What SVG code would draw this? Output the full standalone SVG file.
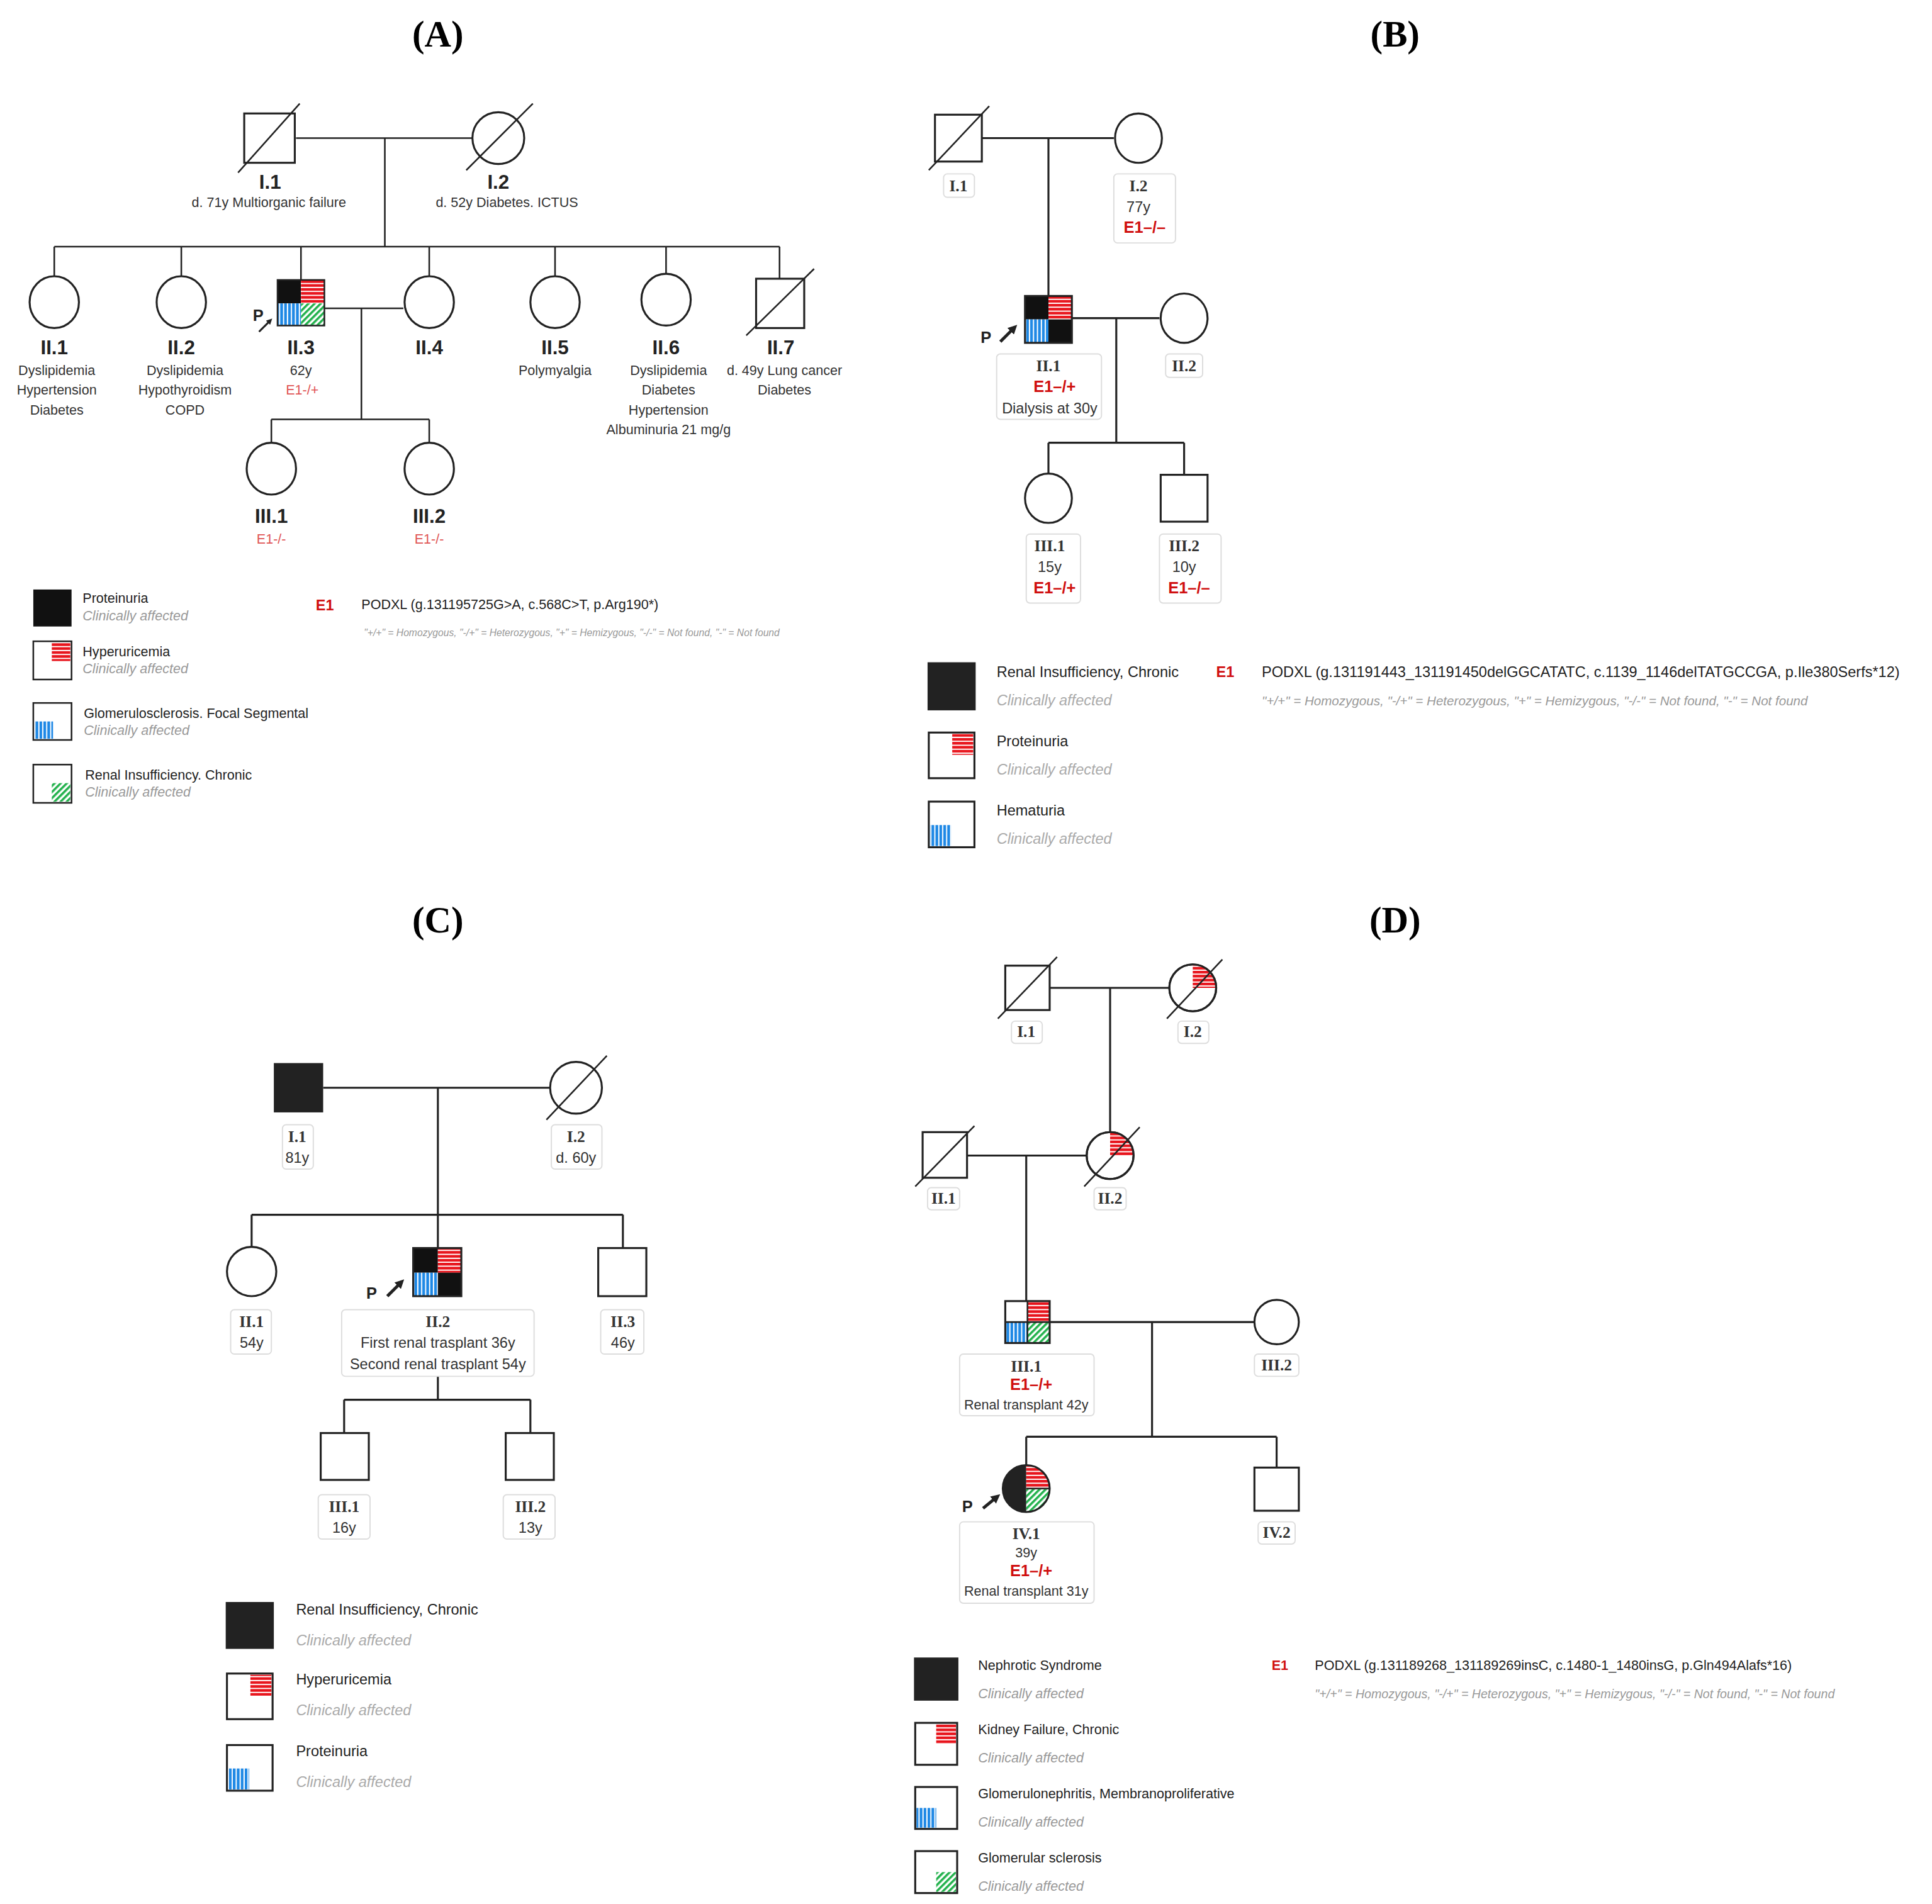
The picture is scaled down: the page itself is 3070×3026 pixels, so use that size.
<svg xmlns="http://www.w3.org/2000/svg" width="3070" height="3026" viewBox="0 0 3070 3026">
<defs>
<pattern id="red" patternUnits="userSpaceOnUse" width="4" height="3.2"><rect width="4" height="3.2" fill="#e8141c"/><rect y="2.2" width="4" height="1" fill="#fff"/></pattern>
<pattern id="blue" patternUnits="userSpaceOnUse" width="3.2" height="4"><rect width="3.2" height="4" fill="#1e88e5"/><rect x="2.2" width="1" height="4" fill="#fff"/></pattern>
<pattern id="green" patternUnits="userSpaceOnUse" width="3.5" height="3.5" patternTransform="rotate(-45)"><rect width="3.5" height="3.5" fill="#fff"/><rect width="3.5" height="1.8" fill="#22b14c"/></pattern>
<marker id="arr" viewBox="0 0 10 10" refX="5" refY="5" markerWidth="3" markerHeight="3" orient="auto"><path d="M0,0 L10,5 L0,10 z" fill="#222"/></marker>
</defs>
<style>
.s{fill:#fff;stroke:#222;stroke-width:1.6}
.l{fill:none;stroke:#222;stroke-width:1.6}
.ln{fill:none;stroke:#222;stroke-width:1.3}
.ttl{font-family:"Liberation Serif",serif;font-weight:bold;font-size:30px;text-anchor:middle}
.aid{font-family:"Liberation Sans",sans-serif;font-weight:bold;font-size:16px;text-anchor:middle;fill:#222}
.at{font-family:"Liberation Sans",sans-serif;font-size:11px;text-anchor:middle;fill:#333}
.ar{font-family:"Liberation Sans",sans-serif;font-size:11px;text-anchor:middle;fill:#e05555}
.bid{font-family:"Liberation Serif",serif;font-weight:bold;font-size:13px;text-anchor:middle;fill:#333}
.bt{font-family:"Liberation Sans",sans-serif;font-size:12px;text-anchor:middle;fill:#333}
.br{font-family:"Liberation Sans",sans-serif;font-weight:bold;font-size:13px;text-anchor:middle;fill:#d01010}
.box{fill:#fff;stroke:#ddd;stroke-width:1}
.lg{font-family:"Liberation Sans",sans-serif;font-size:11px;fill:#222}
.lgi{font-family:"Liberation Sans",sans-serif;font-size:11px;font-style:italic;fill:#999}
.lg2{font-family:"Liberation Sans",sans-serif;font-size:12px;fill:#222}
.lgi2{font-family:"Liberation Sans",sans-serif;font-size:12px;font-style:italic;fill:#aaa}
.e1{font-family:"Liberation Sans",sans-serif;font-weight:bold;font-size:12px;fill:#d01010}
.nt{font-family:"Liberation Sans",sans-serif;font-size:8px;font-style:italic;fill:#999}
.nt2{font-family:"Liberation Sans",sans-serif;font-size:10.5px;font-style:italic;fill:#999}
.p{font-family:"Liberation Sans",sans-serif;font-weight:bold;font-size:13px;fill:#222}
</style>
<rect width="3070" height="3026" fill="#fff"/>
<g transform="scale(1.96)">
<text class="ttl" x="355" y="38">(A)</text>
<text class="ttl" x="1131" y="38">(B)</text>
<text class="ttl" x="355" y="756">(C)</text>
<text class="ttl" x="1131" y="756">(D)</text>

<g id="connectors">
<path class="ln" d="M240,112H383 M312,112V200 M44,200H632 M44,200V224 M147,200V224 M244,200V227 M348,200V224 M450,200V224 M540,200V222 M632,200V226 M263,250H327 M293,250V340 M220,340H348 M220,340V359 M348,340V359"/>
<path class="l" d="M796,112H903 M850,112V240 M869,258H940 M905,258V359 M850,359H960 M850,359V384 M960,359V385"/>
<path class="l" d="M262,882H446 M355,882V1012 M204,985H505 M204,985V1011 M505,985V1012 M355,1116V1135 M279,1135H430 M279,1135V1162 M430,1135V1162"/>
<path class="l" d="M851,801H948 M900,801V918 M784,937H881 M832,937V1055 M851,1072H1017 M934,1072V1165 M832,1165H1035 M832,1165V1188 M1035,1165V1190"/>
</g>

<g id="A-I1"><rect class="s" x="198" y="92" width="41" height="40"/><line class="ln" x1="193" y1="140" x2="243" y2="84"/><text class="aid" x="219" y="153">I.1</text><text class="at" x="218" y="168">d. 71y Multiorganic failure</text></g>
<g id="A-I2"><ellipse class="s" cx="404" cy="112" rx="21" ry="21"/><line class="ln" x1="378" y1="138" x2="432" y2="84"/><text class="aid" x="404" y="153">I.2</text><text class="at" x="411" y="168">d. 52y Diabetes. ICTUS</text></g>
<g id="A-II1"><ellipse class="s" cx="44" cy="245" rx="20" ry="21"/><text class="aid" x="44" y="287">II.1</text><text class="at" x="46" y="304">Dyslipidemia</text><text class="at" x="46" y="320">Hypertension</text><text class="at" x="46" y="336">Diabetes</text></g>
<g id="A-II2"><ellipse class="s" cx="147" cy="245" rx="20" ry="21"/><text class="aid" x="147" y="287">II.2</text><text class="at" x="150" y="304">Dyslipidemia</text><text class="at" x="150" y="320">Hypothyroidism</text><text class="at" x="150" y="336">COPD</text></g>
<g id="A-II3"><rect x="225" y="227" width="19" height="19" fill="#111"/><rect x="244" y="227" width="19" height="19" fill="url(#red)"/><rect x="225" y="246" width="19" height="18" fill="url(#blue)"/><rect x="244" y="246" width="19" height="18" fill="url(#green)"/><rect class="ln" x="225" y="227" width="38" height="37"/><text class="p" x="205" y="260">P</text><line x1="210" y1="269" x2="219" y2="260" stroke="#222" stroke-width="1.6" marker-end="url(#arr)"/><text class="aid" x="244" y="287">II.3</text><text class="at" x="244" y="304">62y</text><text class="ar" x="245" y="320">E1-/+</text></g>
<g id="A-II4"><ellipse class="s" cx="348" cy="245" rx="20" ry="21"/><text class="aid" x="348" y="287">II.4</text></g>
<g id="A-II5"><ellipse class="s" cx="450" cy="245" rx="20" ry="21"/><text class="aid" x="450" y="287">II.5</text><text class="at" x="450" y="304">Polymyalgia</text></g>
<g id="A-II6"><ellipse class="s" cx="540" cy="243" rx="20" ry="21"/><text class="aid" x="540" y="287">II.6</text><text class="at" x="542" y="304">Dyslipidemia</text><text class="at" x="542" y="320">Diabetes</text><text class="at" x="542" y="336">Hypertension</text><text class="at" x="542" y="352">Albuminuria 21 mg/g</text></g>
<g id="A-II7"><rect class="s" x="613" y="226" width="39" height="40"/><line class="ln" x1="605" y1="272" x2="660" y2="218"/><text class="aid" x="633" y="287">II.7</text><text class="at" x="636" y="304">d. 49y Lung cancer</text><text class="at" x="636" y="320">Diabetes</text></g>
<g id="A-III1"><ellipse class="s" cx="220" cy="380" rx="20" ry="21"/><text class="aid" x="220" y="424">III.1</text><text class="ar" x="220" y="441">E1-/-</text></g>
<g id="A-III2"><ellipse class="s" cx="348" cy="380" rx="20" ry="21"/><text class="aid" x="348" y="424">III.2</text><text class="ar" x="348" y="441">E1-/-</text></g>
<g id="A-legend">
<rect x="27" y="478" width="31" height="30" fill="#111"/>
<rect class="ln" x="27" y="520" width="31" height="31"/><rect x="42" y="521" width="15" height="15" fill="url(#red)"/>
<rect class="ln" x="27" y="570" width="31" height="30"/><rect x="28" y="585" width="15" height="14" fill="url(#blue)"/>
<rect class="ln" x="27" y="620" width="31" height="31"/><rect x="42" y="635" width="15" height="15" fill="url(#green)"/>
<text class="lg" x="67" y="489">Proteinuria</text><text class="lgi" x="67" y="503">Clinically affected</text>
<text class="lg" x="67" y="532">Hyperuricemia</text><text class="lgi" x="67" y="546">Clinically affected</text>
<text class="lg" x="68" y="582">Glomerulosclerosis. Focal Segmental</text><text class="lgi" x="68" y="596">Clinically affected</text>
<text class="lg" x="69" y="632">Renal Insufficiency. Chronic</text><text class="lgi" x="69" y="646">Clinically affected</text>
<text class="e1" x="256" y="495">E1</text><text class="lg" x="293" y="494">PODXL (g.131195725G&gt;A, c.568C&gt;T, p.Arg190*)</text>
<text class="nt" x="295" y="516">"+/+" = Homozygous, "-/+" = Heterozygous, "+" = Hemizygous, "-/-" = Not found, "-" = Not found</text>
</g>

<g id="B-I1"><rect class="s" x="758" y="93" width="38" height="38"/><line class="ln" x1="753" y1="138" x2="802" y2="86"/><rect class="box" x="765" y="141" width="25" height="19" rx="3"/><text class="bid" x="777" y="155">I.1</text></g>
<g id="B-I2"><ellipse class="s" cx="923" cy="112" rx="19" ry="20"/><rect class="box" x="903" y="141" width="50" height="56" rx="3"/><text class="bid" x="923" y="155">I.2</text><text class="bt" x="923" y="172">77y</text><text class="br" x="928" y="189">E1–/–</text></g>
<g id="B-II1"><rect x="831" y="240" width="19" height="19" fill="#111"/><rect x="850" y="240" width="19" height="19" fill="url(#red)"/><rect x="831" y="259" width="19" height="19" fill="url(#blue)"/><rect x="850" y="259" width="19" height="19" fill="#111"/><rect class="l" x="831" y="240" width="38" height="38"/><text class="p" x="795" y="278">P</text><line x1="811" y1="277" x2="822" y2="266" stroke="#222" stroke-width="2.5" marker-end="url(#arr)"/><rect class="box" x="808" y="287" width="85" height="53" rx="3"/><text class="bid" x="850" y="301">II.1</text><text class="br" x="855" y="318">E1–/+</text><text class="bt" x="851" y="335">Dialysis at 30y</text></g>
<g id="B-II2"><ellipse class="s" cx="960" cy="258" rx="19" ry="20"/><rect class="box" x="945" y="287" width="30" height="19" rx="3"/><text class="bid" x="960" y="301">II.2</text></g>
<g id="B-III1"><ellipse class="s" cx="850" cy="404" rx="19" ry="20"/><rect class="box" x="832" y="433" width="44" height="56" rx="3"/><text class="bid" x="851" y="447">III.1</text><text class="bt" x="851" y="464">15y</text><text class="br" x="855" y="481">E1–/+</text></g>
<g id="B-III2"><rect class="s" x="941" y="385" width="38" height="38"/><rect class="box" x="940" y="433" width="50" height="56" rx="3"/><text class="bid" x="960" y="447">III.2</text><text class="bt" x="960" y="464">10y</text><text class="br" x="964" y="481">E1–/–</text></g>
<g id="B-legend">
<rect x="752" y="537" width="39" height="39" fill="#222"/>
<rect class="l" x="753" y="594" width="37" height="37"/><rect x="772" y="595" width="17" height="17" fill="url(#red)"/>
<rect class="l" x="753" y="650" width="37" height="37"/><rect x="754" y="669" width="17" height="17" fill="url(#blue)"/>
<text class="lg2" x="808" y="549">Renal Insufficiency, Chronic</text><text class="lgi2" x="808" y="572">Clinically affected</text>
<text class="lg2" x="808" y="605">Proteinuria</text><text class="lgi2" x="808" y="628">Clinically affected</text>
<text class="lg2" x="808" y="661">Hematuria</text><text class="lgi2" x="808" y="684">Clinically affected</text>
<text class="e1" x="986" y="549">E1</text><text class="lg2" x="1023" y="549">PODXL (g.131191443_131191450delGGCATATC, c.1139_1146delTATGCCGA, p.Ile380Serfs*12)</text>
<text class="nt2" x="1023" y="572">"+/+" = Homozygous, "-/+" = Heterozygous, "+" = Hemizygous, "-/-" = Not found, "-" = Not found</text>
</g>

<g id="C-I1"><rect x="222" y="862" width="40" height="40" fill="#222"/><rect class="box" x="229" y="912" width="25" height="36" rx="3"/><text class="bid" x="241" y="926">I.1</text><text class="bt" x="241" y="943">81y</text></g>
<g id="C-I2"><ellipse class="s" cx="467" cy="882" rx="21" ry="21"/><line class="ln" x1="443" y1="908" x2="492" y2="856"/><rect class="box" x="447" y="912" width="41" height="36" rx="3"/><text class="bid" x="467" y="926">I.2</text><text class="bt" x="467" y="943">d. 60y</text></g>
<g id="C-II1"><ellipse class="s" cx="204" cy="1031" rx="20" ry="20"/><rect class="box" x="187" y="1062" width="33" height="36" rx="3"/><text class="bid" x="204" y="1076">II.1</text><text class="bt" x="204" y="1093">54y</text></g>
<g id="C-II2"><rect x="335" y="1012" width="20" height="20" fill="#111"/><rect x="355" y="1012" width="19" height="20" fill="url(#red)"/><rect x="335" y="1032" width="20" height="19" fill="url(#blue)"/><rect x="355" y="1032" width="19" height="19" fill="#111"/><rect class="l" x="335" y="1012" width="39" height="39"/><text class="p" x="297" y="1053">P</text><line x1="314" y1="1051" x2="325" y2="1040" stroke="#222" stroke-width="2.5" marker-end="url(#arr)"/><rect class="box" x="277" y="1062" width="156" height="54" rx="3"/><text class="bid" x="355" y="1076">II.2</text><text class="bt" x="355" y="1093">First renal trasplant 36y</text><text class="bt" x="355" y="1110">Second renal trasplant 54y</text></g>
<g id="C-II3"><rect class="s" x="485" y="1012" width="39" height="39"/><rect class="box" x="487" y="1062" width="35" height="36" rx="3"/><text class="bid" x="505" y="1076">II.3</text><text class="bt" x="505" y="1093">46y</text></g>
<g id="C-III1"><rect class="s" x="260" y="1162" width="39" height="38"/><rect class="box" x="258" y="1212" width="42" height="36" rx="3"/><text class="bid" x="279" y="1226">III.1</text><text class="bt" x="279" y="1243">16y</text></g>
<g id="C-III2"><rect class="s" x="410" y="1162" width="39" height="38"/><rect class="box" x="408" y="1212" width="42" height="36" rx="3"/><text class="bid" x="430" y="1226">III.2</text><text class="bt" x="430" y="1243">13y</text></g>
<g id="C-legend">
<rect x="183" y="1299" width="39" height="38" fill="#222"/>
<rect class="l" x="184" y="1357" width="37" height="37"/><rect x="203" y="1358" width="17" height="17" fill="url(#red)"/>
<rect class="l" x="184" y="1415" width="37" height="37"/><rect x="185" y="1434" width="17" height="17" fill="url(#blue)"/>
<text class="lg2" x="240" y="1309">Renal Insufficiency, Chronic</text><text class="lgi2" x="240" y="1334">Clinically affected</text>
<text class="lg2" x="240" y="1366">Hyperuricemia</text><text class="lgi2" x="240" y="1391">Clinically affected</text>
<text class="lg2" x="240" y="1424">Proteinuria</text><text class="lgi2" x="240" y="1449">Clinically affected</text>
</g>

<g id="D-I1"><rect class="s" x="815" y="783" width="36" height="36"/><line class="ln" x1="809" y1="826" x2="857" y2="776"/><rect class="box" x="820" y="828" width="25" height="18" rx="3"/><text class="bid" x="832" y="841">I.1</text></g>
<g id="D-I2"><ellipse class="s" cx="967" cy="801" rx="19" ry="19"/><path d="M967,801V782A19,19 0 0 1 986,801Z" fill="url(#red)"/><ellipse class="l" cx="967" cy="801" rx="19" ry="19"/><line class="ln" x1="946" y1="826" x2="991" y2="778"/><rect class="box" x="955" y="828" width="25" height="18" rx="3"/><text class="bid" x="967" y="841">I.2</text></g>
<g id="D-II1"><rect class="s" x="748" y="918" width="36" height="37"/><line class="ln" x1="742" y1="962" x2="790" y2="913"/><rect class="box" x="752" y="963" width="26" height="18" rx="3"/><text class="bid" x="765" y="976">II.1</text></g>
<g id="D-II2"><ellipse class="s" cx="900" cy="937" rx="19" ry="19"/><path d="M900,937V918A19,19 0 0 1 919,937Z" fill="url(#red)"/><ellipse class="l" cx="900" cy="937" rx="19" ry="19"/><line class="ln" x1="879" y1="962" x2="924" y2="914"/><rect class="box" x="887" y="963" width="26" height="18" rx="3"/><text class="bid" x="900" y="976">II.2</text></g>
<g id="D-III1"><rect x="833" y="1055" width="18" height="17" fill="url(#red)"/><rect x="815" y="1072" width="18" height="17" fill="url(#blue)"/><rect x="833" y="1072" width="18" height="17" fill="url(#green)"/><rect class="l" x="815" y="1055" width="36" height="34"/><line class="ln" x1="815" y1="1072" x2="851" y2="1072"/><line class="ln" x1="833" y1="1055" x2="833" y2="1089"/><rect class="box" x="778" y="1098" width="109" height="50" rx="3"/><text class="bid" x="832" y="1112">III.1</text><text class="br" x="836" y="1127">E1–/+</text><text class="bt" x="832" y="1143" style="font-size:11px">Renal transplant 42y</text></g>
<g id="D-III2"><ellipse class="s" cx="1035" cy="1072" rx="18" ry="18"/><rect class="box" x="1017" y="1098" width="36" height="18" rx="3"/><text class="bid" x="1035" y="1111">III.2</text></g>
<g id="D-IV1"><path d="M832,1188A19,19 0 0 0 832,1226Z" fill="#222"/><path d="M832,1207V1188A19,19 0 0 1 851,1207Z" fill="url(#red)"/><path d="M832,1207H851A19,19 0 0 1 832,1226Z" fill="url(#green)"/><ellipse class="l" cx="832" cy="1207" rx="19" ry="19"/><line class="ln" x1="832" y1="1207" x2="851" y2="1207"/><text class="p" x="780" y="1226">P</text><line x1="797" y1="1223" x2="808" y2="1214" stroke="#222" stroke-width="2.5" marker-end="url(#arr)"/><rect class="box" x="778" y="1234" width="109" height="66" rx="3"/><text class="bid" x="832" y="1248">IV.1</text><text class="bt" x="832" y="1263" style="font-size:11px">39y</text><text class="br" x="836" y="1278">E1–/+</text><text class="bt" x="832" y="1294" style="font-size:11px">Renal transplant 31y</text></g>
<g id="D-IV2"><rect class="s" x="1017" y="1190" width="36" height="35"/><rect class="box" x="1020" y="1234" width="30" height="18" rx="3"/><text class="bid" x="1035" y="1247">IV.2</text></g>
<g id="D-legend">
<rect x="741" y="1344" width="36" height="35" fill="#222"/>
<rect class="l" x="742" y="1397" width="34" height="34"/><rect x="759" y="1398" width="16" height="16" fill="url(#red)"/>
<rect class="l" x="742" y="1449" width="34" height="34"/><rect x="743" y="1466" width="16" height="16" fill="url(#blue)"/>
<rect class="l" x="742" y="1501" width="34" height="34"/><rect x="759" y="1518" width="16" height="16" fill="url(#green)"/>
<text class="lg" x="793" y="1354">Nephrotic Syndrome</text><text class="lgi" x="793" y="1377">Clinically affected</text>
<text class="lg" x="793" y="1406">Kidney Failure, Chronic</text><text class="lgi" x="793" y="1429">Clinically affected</text>
<text class="lg" x="793" y="1458">Glomerulonephritis, Membranoproliferative</text><text class="lgi" x="793" y="1481">Clinically affected</text>
<text class="lg" x="793" y="1510">Glomerular sclerosis</text><text class="lgi" x="793" y="1533">Clinically affected</text>
<text class="e1" x="1031" y="1354" style="font-size:11px">E1</text><text class="lg" x="1066" y="1354">PODXL (g.131189268_131189269insC, c.1480-1_1480insG, p.Gln494Alafs*16)</text>
<text class="nt2" x="1066" y="1377" style="font-size:10px">"+/+" = Homozygous, "-/+" = Heterozygous, "+" = Hemizygous, "-/-" = Not found, "-" = Not found</text>
</g>
</g>
</svg>
